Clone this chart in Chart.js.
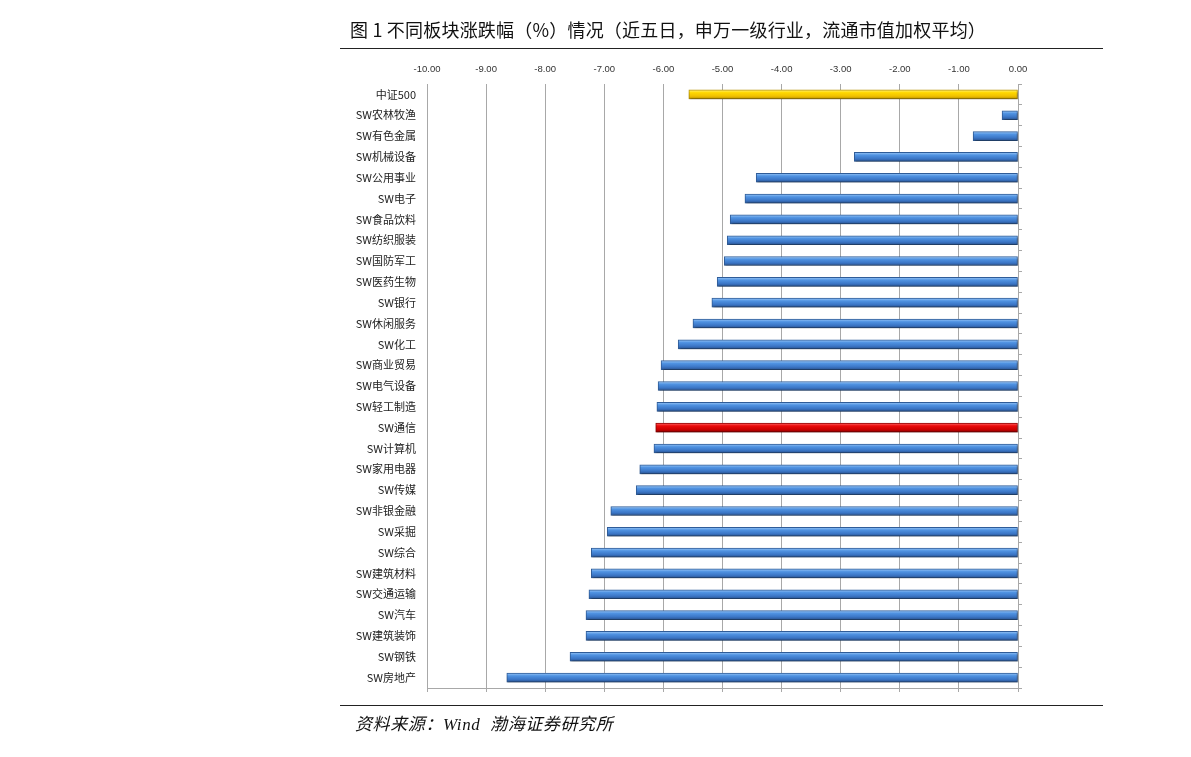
<!DOCTYPE html>
<html>
<head>
<meta charset="utf-8">
<script src="https://cdn.jsdelivr.net/npm/chart.js@4"></script>
<style>
  html, body { margin:0; padding:0; background:#fff; }
  #wrap { position:relative; width:1191px; height:757px; overflow:hidden; }
  #c { position:absolute; left:0; top:0; }
  .title { position:absolute; left:350px; top:18px; font-family:"Noto Sans CJK SC","Noto Sans",sans-serif; font-size:18px; line-height:22px; color:#111; font-weight:400; letter-spacing:0.2px; white-space:nowrap; }
  .rule { position:absolute; left:340px; width:763px; height:1px; background:#222; }
  .source { position:absolute; left:355px; top:713px; font-family:"Liberation Serif","Noto Sans CJK SC",serif; font-style:italic; font-size:17px; line-height:24px; letter-spacing:0.6px; color:#111; white-space:nowrap; }
</style>
</head>
<body>
<div id="wrap">
  <canvas id="c" width="1191" height="757"></canvas>
  <div class="title">图 1 不同板块涨跌幅（%）情况（近五日，申万一级行业，流通市值加权平均）</div>
  <div class="rule" style="top:48px"></div>
  <div class="rule" style="top:705px"></div>
  <div class="source">资料来源：Wind&nbsp; 渤海证券研究所</div>
</div>
<script>
const categories = ['中证500','SW农林牧渔','SW有色金属','SW机械设备','SW公用事业','SW电子','SW食品饮料','SW纺织服装','SW国防军工','SW医药生物','SW银行','SW休闲服务','SW化工','SW商业贸易','SW电气设备','SW轻工制造','SW通信','SW计算机','SW家用电器','SW传媒','SW非银金融','SW采掘','SW综合','SW建筑材料','SW交通运输','SW汽车','SW建筑装饰','SW钢铁','SW房地产'];
const values = [-5.57,-0.27,-0.76,-2.77,-4.43,-4.62,-4.87,-4.92,-4.97,-5.09,-5.18,-5.50,-5.75,-6.04,-6.09,-6.11,-6.13,-6.16,-6.40,-6.46,-6.89,-6.95,-7.22,-7.22,-7.26,-7.31,-7.31,-7.58,-8.65];
const xTickValues = [-10,-9,-8,-7,-6,-5,-4,-3,-2,-1,0];
const xTickLabels = ['-10.00','-9.00','-8.00','-7.00','-6.00','-5.00','-4.00','-3.00','-2.00','-1.00','0.00'];

const highlight = { '中证500':'yellow', 'SW通信':'red' };
const palettes = {
  blue:   { top:'#9cc8f7', mid:'#5093e2', low:'#3b76c6', bot:'#2a5390', border:'#2f5c98' },
  yellow: { top:'#fff27a', mid:'#ffd800', low:'#f0c000', bot:'#b89200', border:'#b8930a' },
  red:    { top:'#ff6a6a', mid:'#ea0a0a', low:'#cc0000', bot:'#8a0000', border:'#900000' }
};
function pal(i){ return palettes[highlight[categories[i]] || 'blue']; }

function barFill(ctx){
  const p = pal(ctx.dataIndex);
  const chart = ctx.chart;
  const ys = chart.scales && chart.scales.y;
  if (!ys || ctx.type !== 'data') return p.mid;
  const cy = ys.getPixelForValue(ctx.dataIndex);
  if (!isFinite(cy)) return p.mid;
  const g = chart.ctx.createLinearGradient(0, cy - 4.5, 0, cy + 4.5);
  g.addColorStop(0, p.top);
  g.addColorStop(0.3, p.mid);
  g.addColorStop(0.7, p.low);
  g.addColorStop(1, p.bot);
  return g;
}

const barShadow = {
  id: 'barShadow',
  beforeDatasetsDraw(chart) {
    const c = chart.ctx; c.save();
    c.shadowColor = 'rgba(0,0,0,0.35)'; c.shadowOffsetX = 1; c.shadowOffsetY = 2; c.shadowBlur = 2;
  },
  afterDatasetsDraw(chart) { chart.ctx.restore(); }
};

const PLOT_LEFT = 427, PLOT_RIGHT = 1018, PLOT_TOP = 84, PLOT_BOTTOM = 688, W = 1191, H = 757;
const gridCol = '#a8a8a8';

new Chart(document.getElementById('c'), {
  type: 'bar',
  plugins: [barShadow],
  data: {
    labels: categories,
    datasets: [{
      data: values,
      xAxisID: 'x',
      yAxisID: 'y',
      backgroundColor: barFill,
      borderColor: (ctx) => pal(ctx.dataIndex).border,
      borderWidth: 1,
      borderSkipped: false,
      barThickness: 9
    }]
  },
  options: {
    indexAxis: 'y',
    responsive: false,
    devicePixelRatio: 1,
    animation: false,
    layout: { padding: 0 },
    plugins: { legend: { display:false }, tooltip: { enabled:false }, title: { display:false } },
    scales: {
      x: {
        type: 'linear', position: 'top', min: -10, max: 0,
        afterBuildTicks: (s) => { s.ticks = xTickValues.map(v => ({ value: v })); },
        ticks: {
          callback: (v) => { const i = xTickValues.indexOf(v); return i >= 0 ? xTickLabels[i] : ''; },
          font: { family: '"Liberation Sans Narrow","Liberation Sans",sans-serif', size: 9.5 },
          color: '#333', padding: 9, maxRotation: 0
        },
        grid: { color: gridCol, lineWidth: 1, drawTicks: false },
        border: { display: false },
        afterFit: (s) => { s.height = PLOT_TOP; }
      },
      x2: {
        type: 'linear', position: 'bottom', min: -10, max: 0,
        afterBuildTicks: (s) => { s.ticks = xTickValues.map(v => ({ value: v })); },
        ticks: { display: false },
        grid: { drawOnChartArea: false, drawTicks: true, tickLength: 4, color: gridCol },
        border: { display: true, color: gridCol },
        afterFit: (s) => { s.height = H - PLOT_BOTTOM; }
      },
      y: {
        type: 'category', position: 'left',
        ticks: {
          font: { family: '"Noto Sans CJK SC","Noto Sans",sans-serif', size: 11 },
          color: '#222', padding: 11
        },
        grid: { display: false, drawTicks: false },
        border: { display: false },
        afterFit: (s) => { s.width = PLOT_LEFT; }
      },
      y2: {
        type: 'category', position: 'right', labels: categories,
        ticks: { display: false },
        grid: { drawOnChartArea: false, drawTicks: true, tickLength: 4, color: gridCol, offset: true },
        border: { display: true, color: gridCol },
        afterFit: (s) => { s.width = W - PLOT_RIGHT; }
      }
    }
  }
});
</script>
</body>
</html>
